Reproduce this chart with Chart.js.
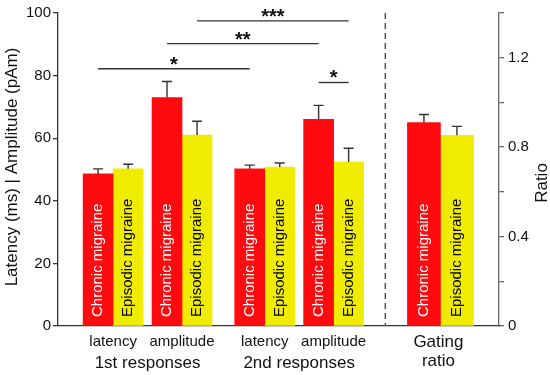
<!DOCTYPE html>
<html>
<head>
<meta charset="utf-8">
<script src="https://cdn.jsdelivr.net/npm/chart.js@4.4.1/dist/chart.umd.min.js"></script>
<style>
  html, body { margin:0; padding:0; background:#fff; }
  #wrap { width:550px; height:375px; }
</style>
</head>
<body>
<div id="wrap"><canvas id="chart" width="550" height="375"></canvas></div>
<script>
// Categories
const subLabels = ['latency', 'amplitude', 'latency', 'amplitude'];
const groupLabels = ['1st responses', '2nd responses'];
const gatingLabel = ['Gating', 'ratio'];
const seriesNames = ['Chronic migraine', 'Episodic migraine'];

// Latency (ms) / amplitude (pAm): means and SE
const chronicMeans  = [48.6, 73.0, 50.2, 66.0];
const chronicErr    = [1.6, 5.1, 1.2, 4.5];
const episodicMeans = [50.2, 61.0, 50.8, 52.4];
const episodicErr   = [1.5, 4.4, 1.3, 4.4];

// Gating ratio: chronic, episodic
const gatingMeans = [0.91, 0.853];
const gatingErr   = [0.036, 0.04];

// Tick labels
const leftTicks = [0, 20, 40, 60, 80, 100];
const rightTicks = [0, 0.2, 0.4, 0.6, 0.8, 1.0, 1.2, 1.4];
const rightTickLabels = ['0', '', '0.4', '', '0.8', '', '1.2', ''];

// Significance brackets: [series, category] -> [series, category]
const sigFrom   = [[0, 0], [0, 1], [1, 1], [0, 3]];
const sigTo     = [[0, 2], [0, 3], [1, 3], [1, 3]];
const sigLevels = [82.2, 90.2, 97.5, 77.8];
const sigLabels = ['*', '**', '***', '*'];

// layout of the x axis (axis units, not data)
const slotX = [1, 2, 3.2, 4.2, 5.75];
const dividerX = 4.95;

const RED = '#fe0a0f', YELLOW = '#f0ec00';
const FONT = '"Liberation Sans", Arial, sans-serif';

const pts = vals => slotX.map((x, i) => ({ x, y: vals[i] ?? null }));
const gatingPts = k => slotX.map((x, i) => ({ x, y: i === 4 ? gatingMeans[k] : null }));
const gatingErrs = k => slotX.map((x, i) => i === 4 ? gatingErr[k] : null);

const decor = {
  id: 'decor',
  beforeDatasetsDraw(chart) {
    const { ctx, chartArea, scales } = chart;
    const x = scales.x.getPixelForValue(dividerX);
    ctx.save();
    ctx.strokeStyle = '#555';
    ctx.lineWidth = 1.5;
    ctx.setLineDash([6, 4]);
    ctx.beginPath();
    ctx.moveTo(x, chartArea.top);
    ctx.lineTo(x, chartArea.bottom);
    ctx.stroke();
    ctx.restore();
  },
  afterDatasetsDraw(chart) {
    const { ctx, chartArea, scales } = chart;
    ctx.save();
    // error bars and in-bar labels
    chart.data.datasets.forEach((ds, di) => {
      const meta = chart.getDatasetMeta(di);
      const ys = scales[ds.yAxisID];
      meta.data.forEach((bar, i) => {
        const v = ds.data[i].y;
        if (v == null) return;
        const top = ys.getPixelForValue(v + ds.err[i]);
        ctx.strokeStyle = '#333';
        ctx.lineWidth = 1.4;
        ctx.beginPath();
        ctx.moveTo(bar.x, bar.y);
        ctx.lineTo(bar.x, top);
        ctx.moveTo(bar.x - 5, top);
        ctx.lineTo(bar.x + 5, top);
        ctx.stroke();

        ctx.save();
        ctx.translate(bar.x, chartArea.bottom - 9);
        ctx.rotate(-Math.PI / 2);
        ctx.fillStyle = ds.textColor;
        ctx.font = '15px ' + FONT;
        ctx.textAlign = 'left';
        ctx.textBaseline = 'middle';
        ctx.fillText(ds.label, 0, 0);
        ctx.restore();
      });
    });

    // significance brackets
    sigLevels.forEach((lvl, k) => {
      const x1 = chart.getDatasetMeta(sigFrom[k][0]).data[sigFrom[k][1]].x;
      const x2 = chart.getDatasetMeta(sigTo[k][0]).data[sigTo[k][1]].x;
      const y = scales.y.getPixelForValue(lvl);
      ctx.strokeStyle = '#333';
      ctx.lineWidth = 1.4;
      ctx.beginPath();
      ctx.moveTo(x1, y);
      ctx.lineTo(x2, y);
      ctx.stroke();
      ctx.fillStyle = '#111';
      ctx.font = 'bold 20px ' + FONT;
      ctx.textAlign = 'center';
      ctx.textBaseline = 'alphabetic';
      ctx.fillText(sigLabels[k], (x1 + x2) / 2, y + 2);
    });

    // x category labels
    ctx.fillStyle = '#111';
    ctx.textAlign = 'center';
    ctx.textBaseline = 'alphabetic';
    ctx.font = '15px ' + FONT;
    subLabels.forEach((t, i) => ctx.fillText(t, scales.x.getPixelForValue(slotX[i]), 346));
    ctx.font = '17px ' + FONT;
    groupLabels.forEach((t, g) => {
      const cx = (scales.x.getPixelForValue(slotX[g * 2]) + scales.x.getPixelForValue(slotX[g * 2 + 1])) / 2;
      ctx.fillText(t, cx, 368);
    });
    const gx = scales.x.getPixelForValue(slotX[4]) - 2;
    ctx.fillText(gatingLabel[0], gx, 347);
    ctx.fillText(gatingLabel[1], gx, 366);

    // axis titles
    ctx.textBaseline = 'middle';
    [['Latency (ms) | Amplitude (pAm)', 12, 167], ['Ratio', 542, 183]].forEach(([t, x, y]) => {
      ctx.save();
      ctx.translate(x, y);
      ctx.rotate(-Math.PI / 2);
      ctx.fillText(t, 0, 0);
      ctx.restore();
    });
    ctx.restore();
  }
};

new Chart(document.getElementById('chart'), {
  type: 'bar',
  data: {
    datasets: [
      { label: seriesNames[0], data: pts(chronicMeans), err: chronicErr, yAxisID: 'y', backgroundColor: RED, barThickness: 30, textColor: '#fff' },
      { label: seriesNames[1], data: pts(episodicMeans), err: episodicErr, yAxisID: 'y', backgroundColor: YELLOW, barThickness: 30, textColor: '#000' },
      { label: seriesNames[0], data: gatingPts(0), err: gatingErrs(0), yAxisID: 'y2', backgroundColor: RED, barThickness: 33, textColor: '#fff' },
      { label: seriesNames[1], data: gatingPts(1), err: gatingErrs(1), yAxisID: 'y2', backgroundColor: YELLOW, barThickness: 33, textColor: '#000' }
    ]
  },
  options: {
    responsive: false,
    animation: false,
    skipNull: true,
    layout: { padding: { top: 11 } },
    plugins: { legend: { display: false }, tooltip: { enabled: false } },
    scales: {
      x: {
        type: 'linear', min: 0.2, max: 6.6, offset: false,
        ticks: { display: false },
        grid: { display: false, offset: false },
        border: { color: '#333', width: 1.3 },
        afterFit: s => { s.height = 49; }
      },
      y: {
        position: 'left', min: 0, max: 100,
        afterBuildTicks: s => { s.ticks = leftTicks.map(v => ({ value: v })); },
        ticks: { color: '#111', font: { size: 15, family: FONT }, padding: 2 },
        grid: { drawOnChartArea: false, tickLength: 5, color: '#333', lineWidth: 1.3 },
        border: { color: '#333', width: 1.3 },
        afterFit: s => { s.width = 58; }
      },
      y2: {
        position: 'right', min: 0, max: 1.4,
        afterBuildTicks: s => { s.ticks = rightTicks.map(v => ({ value: v })); },
        ticks: { color: '#111', font: { size: 15, family: FONT }, padding: 4, callback: (v, i) => rightTickLabels[i] },
        grid: { drawOnChartArea: false, tickLength: 5, color: '#666', lineWidth: 1.3 },
        border: { color: '#666', width: 1.3 },
        afterFit: s => { s.width = 51; }
      }
    }
  },
  plugins: [decor]
});
</script>
</body>
</html>
